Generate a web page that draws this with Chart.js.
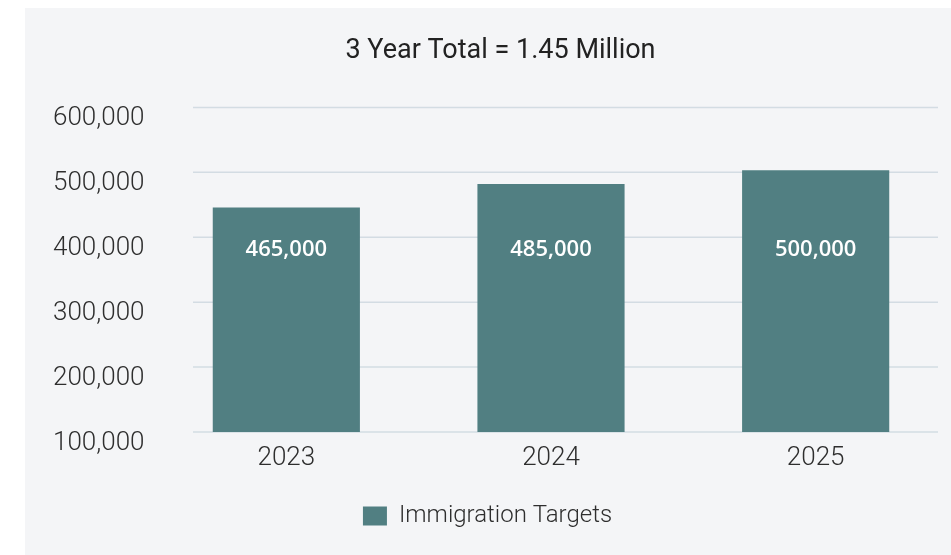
<!DOCTYPE html>
<html lang="en">
<head>
    <meta charset="UTF-8">
    <title>Immigration Targets</title>
    <style>
        html, body {
            margin: 0;
            padding: 0;
            background: #ffffff;
        }
        .panel {
            position: absolute;
            left: 25px;
            top: 8px;
            width: 926px;
            height: 547px;
            background: #f4f5f7;
        }
    </style>
    <script src="https://cdn.jsdelivr.net/npm/chart.js"></script>
</head>
<body>
    <div class="panel">
        <canvas id="targets-chart"></canvas>
    </div>

    <script>
        // Data
        const years = ['2023', '2024', '2025'];
        const barValues = [446000, 482000, 503000];          // bar heights as drawn
        const barLabels = ['465,000', '485,000', '500,000']; // figures printed on the bars
        const yTicks = [100000, 200000, 300000, 400000, 500000, 600000];

        const barColor = '#517f82';
        const textColor = '#2e2e2e';

        // light grid lines, drawn a little inset from the plot edges
        const insetGrid = {
            id: 'insetGrid',
            beforeDatasetsDraw(chart) {
                const { ctx, chartArea, scales } = chart;
                ctx.save();
                ctx.strokeStyle = '#d3dce3';
                ctx.lineWidth = 1.5;
                scales.y.ticks.forEach(t => {
                    const y = scales.y.getPixelForValue(t.value);
                    ctx.beginPath();
                    ctx.moveTo(chartArea.left + 39, y);
                    ctx.lineTo(chartArea.right - 10, y);
                    ctx.stroke();
                });
                ctx.restore();
            }
        };

        // white figures inside each bar
        const barText = {
            id: 'barText',
            afterDatasetsDraw(chart) {
                const { ctx, chartArea } = chart;
                const meta = chart.getDatasetMeta(0);
                const y = chartArea.top + chartArea.height * 0.437;
                ctx.save();
                ctx.fillStyle = '#ffffff';
                ctx.font = "600 22px 'Open Sans', sans-serif";
                ctx.textAlign = 'center';
                ctx.textBaseline = 'middle';
                meta.data.forEach((bar, i) => {
                    ctx.fillText(barLabels[i], bar.x, y);
                });
                ctx.restore();
            }
        };

        // the legend sits a little left of the plot centre
        const legendShift = {
            id: 'legendShift',
            afterLayout(chart) {
                chart.legend.left -= 13;
                chart.legend.right -= 13;
            }
        };

        new Chart(document.getElementById('targets-chart'), {
            type: 'bar',
            data: {
                labels: years,
                datasets: [{
                    label: 'Immigration Targets',
                    data: barValues,
                    backgroundColor: barColor,
                    borderWidth: 0,
                    barPercentage: 0.556,
                    categoryPercentage: 1
                }]
            },
            options: {
                responsive: true,
                maintainAspectRatio: false,
                animation: false,
                layout: {
                    padding: { left: 28, right: 3, top: 0, bottom: 17 }
                },
                scales: {
                    x: {
                        grid: { display: false, drawTicks: false },
                        border: { display: false },
                        ticks: {
                            padding: 11,
                            color: textColor,
                            font: { family: 'Roboto', size: 26, weight: 300 }
                        },
                        afterFit(scale) { scale.height = 62; }
                    },
                    y: {
                        min: 100000,
                        max: 600000,
                        grid: { display: false, drawTicks: false },
                        border: { display: false },
                        afterBuildTicks(scale) {
                            scale.ticks = yTicks.map(v => ({ value: v }));
                        },
                        ticks: {
                            crossAlign: 'far',
                            labelOffset: 11,
                            color: textColor,
                            font: { family: 'Roboto', size: 26, weight: 300 },
                            callback: v => v.toLocaleString('en-US')
                        },
                        afterFit(scale) { scale.width = 101; }
                    }
                },
                plugins: {
                    title: {
                        display: true,
                        text: '3 Year Total = 1.45 Million',
                        color: '#222222',
                        font: { family: 'Roboto', size: 27, weight: 'normal' },
                        padding: { top: 27, bottom: 40 }
                    },
                    legend: {
                        position: 'bottom',
                        labels: {
                            boxWidth: 24,
                            boxHeight: 19,
                            color: textColor,
                            font: { family: 'Roboto', size: 24, weight: 300 }
                        }
                    },
                    tooltip: { enabled: false }
                }
            },
            plugins: [insetGrid, barText, legendShift]
        });
    </script>
</body>
</html>
